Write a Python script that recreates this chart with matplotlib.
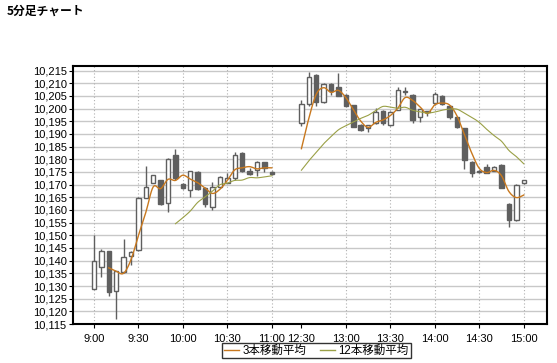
import numpy as np
import pandas as pd
import matplotlib
matplotlib.use("Agg")
import matplotlib.pyplot as plt

plt.rcParams['font.family'] = ['Liberation Sans', 'Noto Sans CJK JP', 'DejaVu Sans']

# 5-min candles: morning 9:00-11:00, afternoon 12:30-15:00
am_times = pd.date_range("09:00", "11:00", freq="5min").strftime("%-H:%M").tolist()
pm_times = pd.date_range("12:30", "15:00", freq="5min").strftime("%-H:%M").tolist()
gap_times = ["11:05", "11:10", "11:15"]  # empty slots on the axis

opens = [10129, 10137.6, 10143.8, 10128, 10135.6, 10141.8, 10144.2, 10164.6, 10170.8, 10171.8,
         10162.6, 10181.7, 10170.4, 10167.9, 10175.1, 10168.7, 10161.3, 10169.2, 10170.8, 10172.5,
         10182.4, 10175.4, 10175.8, 10178.8, 10175,
         10194.4, 10201.7, 10213.2, 10202.6, 10209.6, 10208.5, 10205.4, 10201.3, 10193.5, 10192.2,
         10194.2, 10199.2, 10193.5, 10199.5, 10206.5, 10205.4, 10196.6, 10198.5, 10202.1, 10205.1,
         10201, 10196.6, 10192.2, 10179.1, 10175, 10176.8, 10175.5, 10177.8, 10162.4, 10156, 10170.5]
highs = [10150, 10144.5, 10144, 10136, 10148.5, 10144, 10165, 10177.4, 10174, 10172,
         10180.5, 10184, 10170.8, 10175.5, 10175.5, 10169, 10171.2, 10173.5, 10174.7, 10182.8,
         10182.8, 10176.5, 10179.5, 10179, 10175.3,
         10203.4, 10214.5, 10213.5, 10210, 10210, 10214.2, 10205.8, 10201.5, 10193.8, 10193.5,
         10200.1, 10199.4, 10199, 10208.4, 10208.4, 10205.6, 10200, 10199.2, 10206.7, 10205.3,
         10201.3, 10196.8, 10192.4, 10179.3, 10175.8, 10178, 10177.3, 10178, 10162.6, 10170.2, 10172]
lows = [10128.8, 10133.7, 10126.2, 10117, 10135, 10138.3, 10144, 10164.6, 10170.5, 10162,
        10159.3, 10172, 10168.4, 10165.2, 10167.8, 10161, 10160, 10168.6, 10170.5, 10172,
        10175, 10173.8, 10173.5, 10175.1, 10173.8,
        10193.1, 10201, 10201, 10202.3, 10205.3, 10205, 10201, 10192.9, 10191.2, 10190.9,
        10194, 10193.5, 10193.3, 10199.3, 10205.4, 10194.5, 10194.8, 10197, 10201.5, 10201.5,
        10196, 10192.5, 10176.1, 10173.1, 10174.5, 10174.5, 10175.3, 10168.6, 10153.4, 10155.8, 10170.3]
closes = [10140, 10144, 10127.5, 10136, 10141.6, 10143.5, 10164.6, 10169, 10173.8, 10162.4,
          10180.1, 10172.5, 10168.6, 10175.5, 10168.2, 10162.2, 10169.2, 10173.1, 10172.7, 10181.7,
          10175.5, 10174.1, 10179.1, 10176.7, 10174.1,
          10201.8, 10212.6, 10202.6, 10209.6, 10207, 10205, 10201, 10192.9, 10191.4, 10193.5,
          10198.8, 10194.2, 10198.8, 10207.4, 10206.9, 10195.5, 10199.7, 10199, 10205.8, 10201.8,
          10196.6, 10192.9, 10179.7, 10174.5, 10175.1, 10174.7, 10177.1, 10168.8, 10156, 10169.9, 10171.8]

tick_times = ["9:00", "9:30", "10:00", "10:30", "11:00", "12:30",
              "13:00", "13:30", "14:00", "14:30", "15:00"]
ma_labels = ["3本移動平均", "12本移動平均"]

slots = am_times + gap_times + pm_times
bar_times = am_times + pm_times
x = np.array([slots.index(t) for t in bar_times])
o, h, l, c = map(np.array, (opens, highs, lows, closes))


def smooth(px, py, k=8):
    # Catmull-Rom curve through the points, like the original's curved MA lines
    px, py = np.asarray(px, float), np.asarray(py, float)
    if len(px) < 3:
        return px, py
    P = np.column_stack([px, py])
    P = np.vstack([P[0], P, P[-1]])
    out = []
    t = np.linspace(0, 1, k, endpoint=False)[:, None]
    for i in range(1, len(P) - 2):
        p0, p1, p2, p3 = P[i - 1], P[i], P[i + 1], P[i + 2]
        seg = 0.5 * ((2 * p1) + (-p0 + p2) * t + (2 * p0 - 5 * p1 + 4 * p2 - p3) * t ** 2
                     + (-p0 + 3 * p1 - 3 * p2 + p3) * t ** 3)
        out.append(seg)
    out.append(P[-2][None, :])
    out = np.vstack(out)
    return out[:, 0], out[:, 1]


fig = plt.figure(figsize=(5.57, 3.63), dpi=100)
ax = fig.add_axes([0.131, 0.1074, 0.8505, 0.7106])

# grid
for v in np.arange(10115, 10216, 5):
    ax.axhline(v, color='#c8c8c8', lw=1, zorder=0)
for t in tick_times:
    if t != "12:30":
        ax.axvline(slots.index(t), color='#b0b0b0', lw=0.8, ls=(0, (1, 2)), zorder=0)

# candles
dark = '#5f5f5f'
up = c >= o
ax.vlines(x, l, h, color=dark, lw=1, zorder=2)
bottom = np.minimum(o, c)
height = np.maximum(np.abs(c - o), 0.35)
ax.bar(x[up], height[up], bottom=bottom[up], width=0.6, color='white',
       edgecolor=dark, lw=1, zorder=3)
ax.bar(x[~up], height[~up], bottom=bottom[~up], width=0.6, color=dark,
       edgecolor=dark, lw=1, zorder=3)

# moving averages (continuous over sessions, drawn per session)
cs = pd.Series(closes)
ma3 = cs.rolling(3).mean().values
ma12 = cs.rolling(12).mean().values
n_am = len(am_times)
for sl in (slice(0, n_am), slice(n_am, None)):
    first = sl.start == 0
    for ma, col, lw, lab in ((ma3, '#c8781e', 1.0, ma_labels[0]),
                             (ma12, '#9aa046', 0.8, ma_labels[1])):
        xs, ys = x[sl], ma[sl]
        ok = ~np.isnan(ys)
        sx, sy = smooth(xs[ok], ys[ok])
        ax.plot(sx, sy, color=col, lw=lw, zorder=4, label=lab if first else None)

ax.set_xlim(-2.83, 61.1)
ax.set_ylim(10115, 10216.8)
ax.set_yticks(np.arange(10115, 10216, 5))
ax.set_yticklabels([f"{v:,}" for v in np.arange(10115, 10216, 5)])
ax.set_xticks([slots.index(t) for t in tick_times])
ax.set_xticklabels(tick_times)
ax.tick_params(labelsize=8, length=3, width=0.8, pad=1.5, colors='black')
ax.tick_params(axis='x', pad=4)
for s in ax.spines.values():
    s.set_linewidth(1.5)
    s.set_color('black')

fig.text(0.012, 0.97, "5分足チャート", fontsize=8.5, fontweight='bold',
         family=['Noto Sans CJK JP'], va='center', ha='left')

leg = fig.legend(loc='center', bbox_to_anchor=(0.568, 0.034), ncol=2, fontsize=8.3,
                 frameon=True, fancybox=False, edgecolor='black', handlelength=1.3,
                 handletextpad=0.35, columnspacing=1.1, borderpad=0.15,
                 borderaxespad=0)
leg.get_frame().set_linewidth(1)
for line in leg.get_lines():
    line.set_linewidth(1)

fig.savefig("out.png", dpi=100, facecolor='white')
